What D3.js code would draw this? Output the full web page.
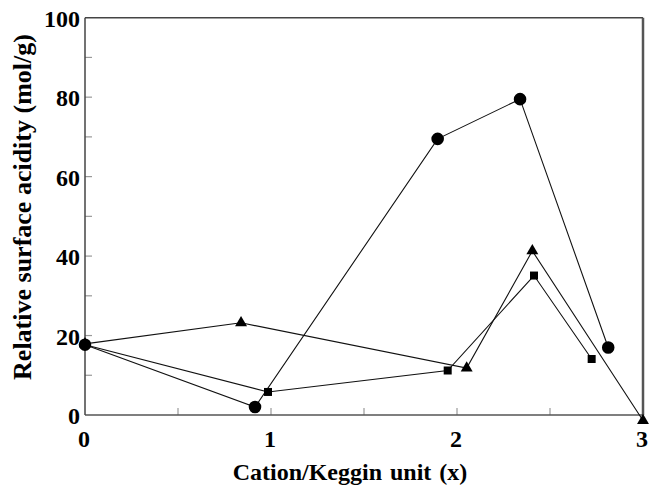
<!DOCTYPE html>
<html><head><meta charset="utf-8">
<script src="https://cdn.jsdelivr.net/npm/d3@7"></script>
<style>body{margin:0;background:#fff}svg{display:block}</style>
</head><body><svg id="c" width="650" height="491"></svg>
<script>
const xTickLabels = [0, 1, 2, 3];
const yTickLabels = [0, 20, 40, 60, 80, 100];
const circleX = [0, 0.914, 1.896, 2.339, 2.813];
const circleY = [17.7, 2.0, 69.5, 79.5, 17.0];
const squareX = [0, 0.984, 1.95, 2.414, 2.724];
const squareY = [17.7, 5.8, 11.2, 35.1, 14.1];
const triangleX = [0, 0.839, 2.052, 2.405, 3.0];
const triangleY = [17.9, 23.2, 11.8, 41.3, -1.4];
const xTitle = "Cation/Keggin unit (x)";
const yTitle = "Relative surface acidity (mol/g)";

const svg = d3.select("#c");
const L = 85, R = 643, T = 17.7, B = 415;
const x = d3.scaleLinear().domain([0, 3]).range([L, R]);
const y = d3.scaleLinear().domain([0, 100]).range([B, T]);
const font = "'Liberation Serif','Times New Roman',serif";

const g = svg.append("g");
g.selectAll(".yt").data(d3.range(10, 100, 10)).join("line")
  .attr("x1", L).attr("x2", L + 7).attr("y1", d => y(d)).attr("y2", d => y(d))
  .attr("stroke", "#999").attr("stroke-width", 1.2);
g.selectAll(".xt").data(d3.range(0.5, 3, 0.5)).join("line")
  .attr("x1", d => x(d)).attr("x2", d => x(d)).attr("y1", B).attr("y2", B - 7)
  .attr("stroke", "#999").attr("stroke-width", 1.2);

svg.append("line").attr("x1", L).attr("x2", R).attr("y1", T).attr("y2", T).attr("stroke", "#444").attr("stroke-width", 1.5);
svg.append("line").attr("x1", L).attr("x2", R).attr("y1", B).attr("y2", B).attr("stroke", "#555").attr("stroke-width", 1.5);
svg.append("line").attr("x1", L).attr("x2", L).attr("y1", T).attr("y2", B).attr("stroke", "#444").attr("stroke-width", 1.5);
svg.append("line").attr("x1", R).attr("x2", R).attr("y1", T).attr("y2", B).attr("stroke", "#555").attr("stroke-width", 2.5);

svg.selectAll(".yl").data(yTickLabels).join("text")
  .attr("x", 80).attr("y", d => y(d) + 9).attr("text-anchor", "end")
  .attr("font-family", font).attr("font-weight", "bold").attr("font-size", 24).text(d => d);
svg.selectAll(".xl").data(xTickLabels).join("text")
  .attr("x", d => x(d) - 1).attr("y", 447).attr("text-anchor", "middle")
  .attr("font-family", font).attr("font-weight", "bold").attr("font-size", 24).text(d => d);

svg.append("text").attr("x", 350).attr("y", 480).attr("text-anchor", "middle")
  .attr("font-family", font).attr("font-weight", "bold").attr("font-size", 24)
  .attr("word-spacing", 2).text(xTitle);
svg.append("text").attr("transform", "translate(31,207) rotate(-90)").attr("text-anchor", "middle")
  .attr("font-family", font).attr("font-weight", "bold").attr("font-size", 26).text(yTitle);

const line = d3.line().x(d => x(d[0])).y(d => y(d[1]));
const series = [
  {xs: triangleX, ys: triangleY, sym: d3.symbolTriangle, size: 62},
  {xs: squareX, ys: squareY, sym: d3.symbolSquare, size: 64},
  {xs: circleX, ys: circleY, sym: d3.symbolCircle, size: 124}
];
series.forEach(s => {
  const pts = s.xs.map((v, i) => [v, s.ys[i]]);
  svg.append("path").attr("d", line(pts)).attr("fill", "none").attr("stroke", "#111").attr("stroke-width", 1.1);
});
series.forEach(s => {
  const pts = s.xs.map((v, i) => [v, s.ys[i]]);
  svg.selectAll(null).data(pts).join("path")
    .attr("transform", d => `translate(${x(d[0])},${y(d[1])})`)
    .attr("d", d3.symbol().type(s.sym).size(s.size)).attr("fill", "#000");
});
</script></body></html>
